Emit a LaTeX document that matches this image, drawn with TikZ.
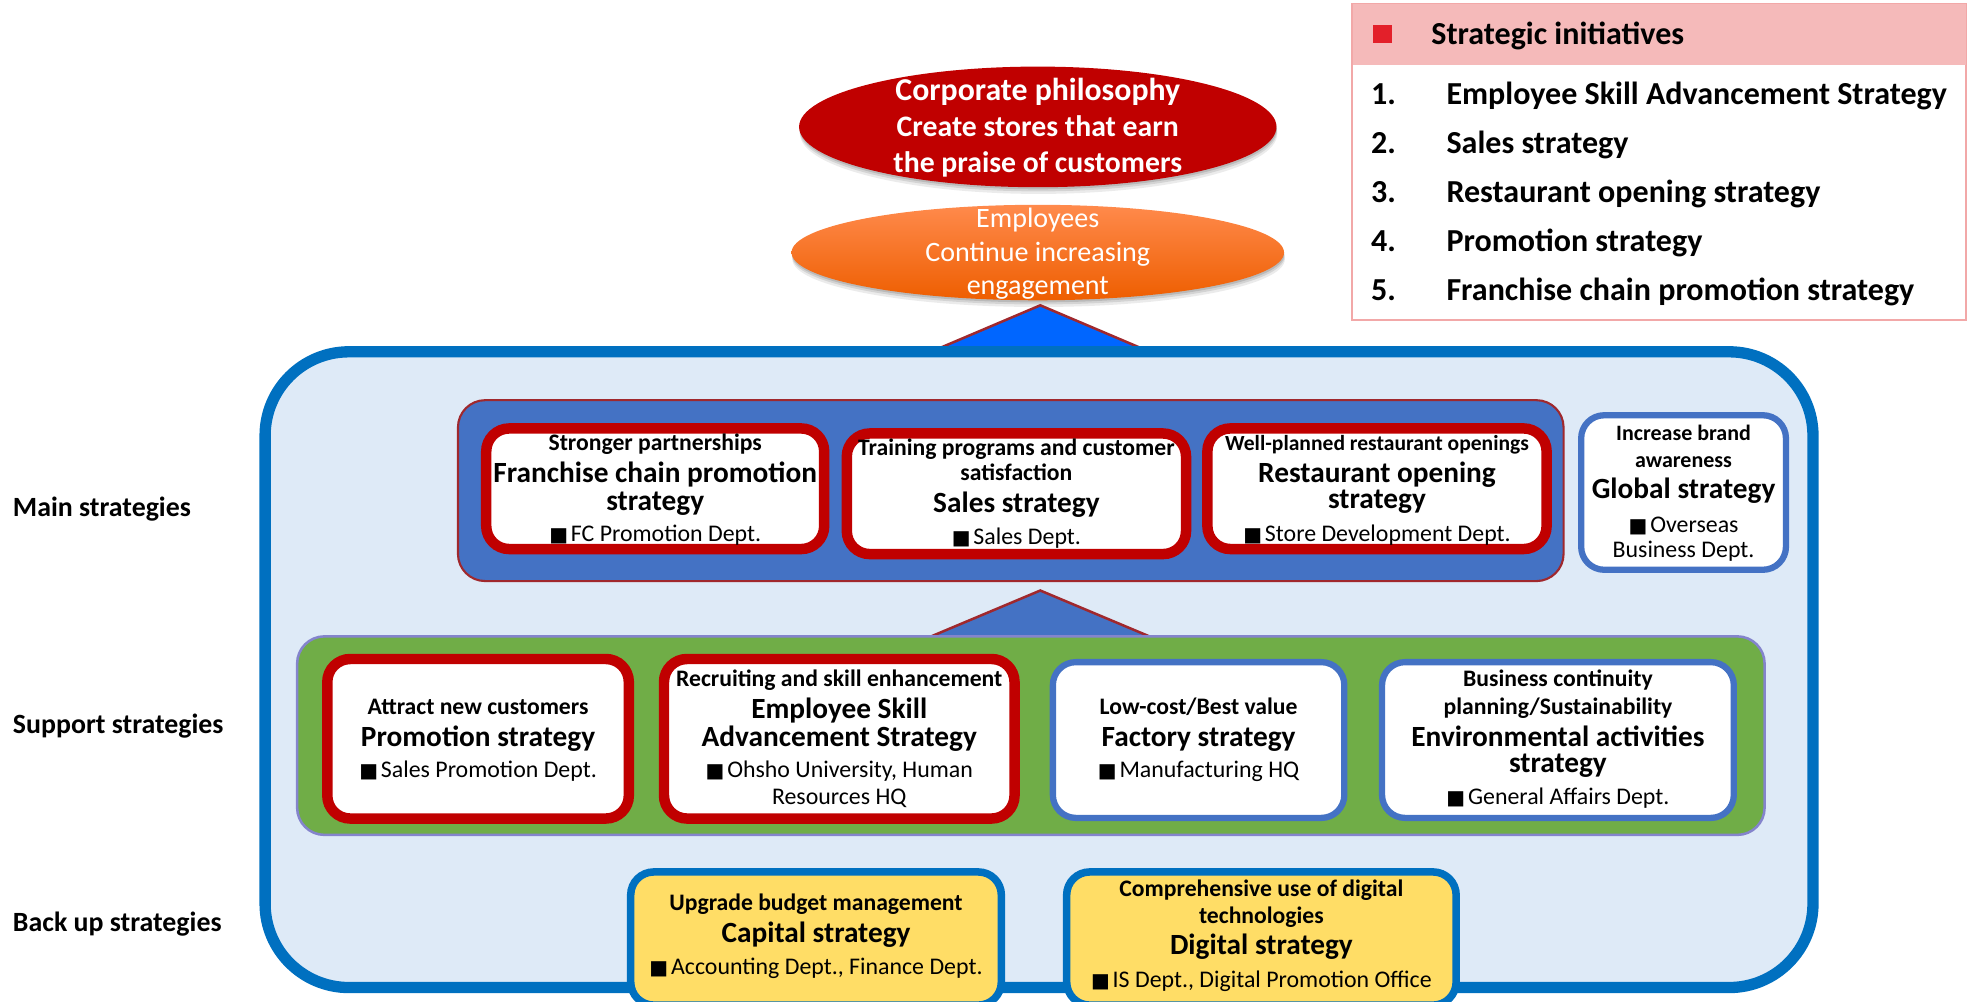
\documentclass[tikz,border=0pt]{standalone}
\usepackage{fontspec}
\setmainfont{Carlito}
\newfontfamily\symfont{DejaVu Sans}
\usetikzlibrary{fit,shadows,shapes.geometric}

\definecolor{corpred}{HTML}{C00000}
\definecolor{orgtop}{HTML}{FF8A4C}
\definecolor{orgbot}{HTML}{EE5E00}
\definecolor{tribright}{HTML}{0066FF}
\definecolor{edgered}{HTML}{A0282D}
\definecolor{outerfill}{HTML}{DEEAF7}
\definecolor{outerline}{HTML}{0070C0}
\definecolor{mainfill}{HTML}{4472C4}
\definecolor{boxred}{HTML}{C00000}
\definecolor{boxblue}{HTML}{4472C4}
\definecolor{suppfill}{HTML}{70AD47}
\definecolor{suppline}{HTML}{8484CC}
\definecolor{backfill}{HTML}{FFDD66}
\definecolor{legfill}{HTML}{F5BABA}
\definecolor{legline}{HTML}{F2A8A8}
\definecolor{legsq}{HTML}{E3202A}

% black square bullet before department names
\newcommand\blk{{\symfont\fontsize{9.5}{9.5}\selectfont ■}\hspace{0.12em}}

\tikzset{
  area/.style={rectangle, inner sep=0pt},
  outerpanel/.style={area, fill=outerfill, draw=outerline, line width=5.4pt, rounded corners=40pt},
  mainpanel/.style={area, fill=mainfill, draw=edgered, line width=1pt, rounded corners=13pt},
  supppanel/.style={area, fill=suppfill, draw=suppline, line width=1.2pt, rounded corners=13pt},
  keybox/.style={area, fill=white, draw=boxred, line width=5pt, rounded corners=11pt},
  plainbox/.style={area, fill=white, draw=boxblue, line width=3pt, rounded corners=11pt},
  backbox/.style={area, fill=backfill, draw=outerline, line width=3.6pt, rounded corners=11pt},
  txt/.style={anchor=base, inner sep=0pt, text=black},
  ttl/.style={txt, font=\bfseries\fontsize{14}{16}\selectfont},
  sub/.style={txt, font=\bfseries\fontsize{11.3}{13}\selectfont},
  subsmall/.style={txt, font=\bfseries\fontsize{10.5}{12}\selectfont},
  dept/.style={txt, font=\fontsize{11.4}{13}\selectfont},
  tier/.style={txt, anchor=base west, font=\bfseries\fontsize{13.3}{16}\selectfont},
  legtxt/.style={txt, anchor=base west, font=\bfseries\fontsize{15.3}{18}\selectfont},
  eltxt/.style={anchor=base, inner sep=0pt, text=white},
  tri/.style={draw=edgered, line width=1.2pt, line join=miter},
  softshadow/.style={
    drop shadow={shadow xshift=0.4pt, shadow yshift=-3.2pt, opacity=0.08, fill=black},
    drop shadow={shadow xshift=0.3pt, shadow yshift=-2pt, opacity=0.1, fill=black},
    drop shadow={shadow xshift=0.2pt, shadow yshift=-1pt, opacity=0.12, fill=black}},
}

\begin{document}
\begin{tikzpicture}[x=0.6pt, y=-0.6pt]
\useasboundingbox (0,0) rectangle (1568,796.73);
\begin{scope}
\clip (0,0) rectangle (1568,796.73);

% ---- legend of strategic initiatives ----
\node[area, fit={(1076,3) (1565,255)}, fill=white, draw=legline, line width=1pt] (legend) {};
\node[area, fit={(1076.5,3.5) (1564.5,52)}, fill=legfill] (leghead) {};
\node[area, fill=legsq, minimum size=9pt] (legsquare) at (1100.5,27) {};
\node[legtxt] (leghd) at (1139,35.5) {Strategic initiatives};
\node[legtxt] (n1) at (1091,83.5) {1.};
\node[legtxt] (i1) at (1151,83.5) {Employee Skill Advancement Strategy};
\node[legtxt] (n2) at (1091,122.5) {2.};
\node[legtxt] (i2) at (1151,122.5) {Sales strategy};
\node[legtxt] (n3) at (1091,161.5) {3.};
\node[legtxt] (i3) at (1151,161.5) {Restaurant opening strategy};
\node[legtxt] (n4) at (1091,200.5) {4.};
\node[legtxt] (i4) at (1151,200.5) {Promotion strategy};
\node[legtxt] (n5) at (1091,239.5) {5.};
\node[legtxt] (i5) at (1151,239.5) {Franchise chain promotion strategy};

% ---- philosophy and employees ----
\node[ellipse, minimum width=228pt, minimum height=57.6pt, inner sep=0pt,
      fill=corpred, softshadow] (philo) at (826,101) {};
\node[eltxt, font=\bfseries\fontsize{15.2}{17}\selectfont] (philo1) at (826,80) {Corporate philosophy};
\node[eltxt, font=\bfseries\fontsize{14.2}{16}\selectfont] (philo2) at (826,109) {Create stores that earn};
\node[eltxt, font=\bfseries\fontsize{14.2}{16}\selectfont] (philo3) at (826,137) {the praise of customers};

\node[ellipse, minimum width=235.2pt, minimum height=45.6pt, inner sep=0pt,
      top color=orgtop, bottom color=orgbot, softshadow] (empl) at (826,201) {};
\node[eltxt, font=\fontsize{13.4}{15}\selectfont] (empl1) at (826,181) {Employees};
\node[eltxt, font=\fontsize{13.4}{15}\selectfont] (empl2) at (826,208) {Continue increasing};
\node[eltxt, font=\fontsize{13.4}{15}\selectfont] (empl3) at (826,234) {engagement};

% arrow-head triangle under the employees
\draw[tri, fill=tribright] (748,277) -- (828,243) -- (908,277) -- cycle;

% ---- outer frame ----
\node[outerpanel, fit={(211,280) (1443,786)}] (frame) {};

% triangle between support and main strategies
\draw[tri, fill=mainfill] (740,507) -- (828,470) -- (916,507) -- cycle;

% ---- main strategies ----
\node[mainpanel, fit={(364.5,318.5) (1244.5,462.5)}] (mainp) {};
\node[keybox, fit={(387,341) (656,437)}] (fc) {};
\node[keybox, fit={(674,345) (944,441)}] (sales) {};
\node[keybox, fit={(961,341) (1231,437)}] (rest) {};
\node[plainbox, fit={(1258.5,330.5) (1421.5,453.5)}] (glob) {};

\node[sub]  (fc1) at (521.5,358.7) {Stronger partnerships};
\node[ttl]  (fc2) at (521.5,384) {Franchise chain promotion};
\node[ttl]  (fc3) at (521.5,406) {strategy};
\node[dept] (fc4) at (521.5,430.7) {\blk FC Promotion Dept.};

\node[sub]  (sa1) at (809,362.7) {Training programs and customer};
\node[sub]  (sa2) at (809,382.7) {satisfaction};
\node[ttl]  (sa3) at (809,408) {Sales strategy};
\node[dept] (sa4) at (809,433.7) {\blk Sales Dept.};

\node[txt, font=\bfseries\fontsize{10.3}{12}\selectfont] (re1) at (1096,358.7) {Well-planned restaurant openings};
\node[ttl]  (re2) at (1096,384) {Restaurant opening};
\node[ttl]  (re3) at (1096,405) {strategy};
\node[dept] (re4) at (1096,430.7) {\blk Store Development Dept.};

\node[subsmall] (gl1) at (1340,350.7) {Increase brand};
\node[subsmall] (gl2) at (1340,371.7) {awareness};
\node[ttl]  (gl3) at (1340,397) {Global strategy};
\node[dept] (gl4) at (1340,423.7) {\blk Overseas};
\node[dept] (gl5) at (1340,443.7) {Business Dept.};

% ---- support strategies ----
\node[supppanel, fit={(236.5,506.5) (1404.5,664.5)}] (suppp) {};
\node[keybox, fit={(260.5,524.5) (500.5,651.5)}] (promo) {};
\node[keybox, fit={(528.5,524.5) (807.5,651.5)}] (skill) {};
\node[plainbox, fit={(838,527) (1070,651)}] (fact) {};
\node[plainbox, fit={(1100,527) (1380,651)}] (env) {};

\node[sub]  (pr1) at (380.5,568.7) {Attract new customers};
\node[ttl]  (pr2) at (380.5,594) {Promotion strategy};
\node[dept] (pr3) at (380.5,618.7) {\blk Sales Promotion Dept.};

\node[sub]  (sk1) at (668,546.7) {Recruiting and skill enhancement};
\node[ttl]  (sk2) at (668,572) {Employee Skill};
\node[ttl]  (sk3) at (668,594) {Advancement Strategy};
\node[dept] (sk4) at (668,618.7) {\blk Ohsho University, Human};
\node[dept] (sk5) at (668,640.7) {Resources HQ};

\node[sub]  (fa1) at (954,568.7) {Low-cost/Best value};
\node[ttl]  (fa2) at (954,594) {Factory strategy};
\node[dept] (fa3) at (954,618.7) {\blk Manufacturing HQ};

\node[sub]  (en1) at (1240,546.7) {Business continuity};
\node[sub]  (en2) at (1240,568.7) {planning/Sustainability};
\node[ttl]  (en3) at (1240,594) {Environmental activities};
\node[ttl]  (en4) at (1240,615) {strategy};
\node[dept] (en5) at (1240,640.7) {\blk General Affairs Dept.};

% ---- back up strategies ----
\node[backbox, fit={(502,694) (797,800)}] (capital) {};
\node[backbox, fit={(849,694) (1159,800)}] (digital) {};

\node[sub]  (ca1) at (649.5,724.7) {Upgrade budget management};
\node[ttl]  (ca2) at (649.5,750) {Capital strategy};
\node[dept] (ca3) at (649.5,775.7) {\blk Accounting Dept., Finance Dept.};

\node[sub]  (di1) at (1004,713.7) {Comprehensive use of digital};
\node[sub]  (di2) at (1004,734.7) {technologies};
\node[ttl]  (di3) at (1004,760) {Digital strategy};
\node[dept] (di4) at (1004,785.7) {\blk IS Dept., Digital Promotion Office};

% ---- tier labels ----
\node[tier] (tmain) at (10,410.7) {Main strategies};
\node[tier] (tsupp) at (10,583.7) {Support strategies};
\node[tier] (tback) at (10,741.7) {Back up strategies};

\end{scope}
\end{tikzpicture}
\end{document}
